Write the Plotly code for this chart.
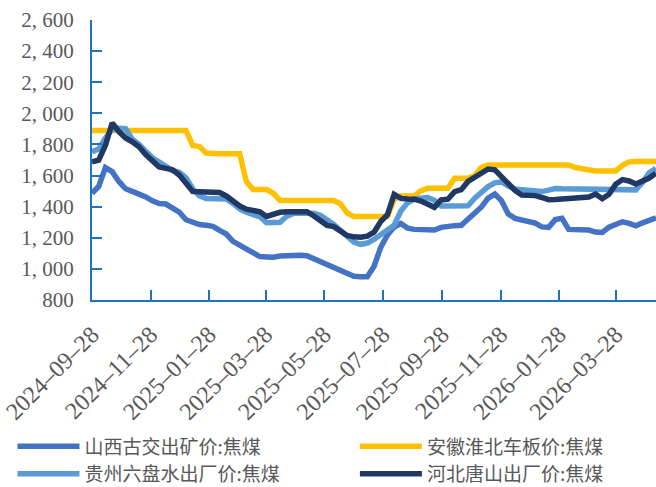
import pandas as pd
import plotly.graph_objects as go

# weekly observation dates
dates = pd.date_range("2024-09-28", periods=85, freq="7D")

tick_dates = ["2024-09-28", "2024-11-28", "2025-01-28", "2025-03-28", "2025-05-28",
              "2025-07-28", "2025-09-28", "2025-11-28", "2026-01-28", "2026-03-28"]

y_tick_vals = [800, 1000, 1200, 1400, 1600, 1800, 2000, 2200, 2400, 2600]
y_tick_text = ["800", "1, 000", "1, 200", "1, 400", "1, 600", "1, 800",
               "2, 000", "2, 200", "2, 400", "2, 600"]

names = ["山西古交出矿价:焦煤", "安徽淮北车板价:焦煤", "贵州六盘水出厂价:焦煤", "河北唐山出厂价:焦煤"]

gujiao = [1486, 1530, 1651, 1625, 1562, 1515, 1498, 1485, 1463, 1438,
          1420, 1417, 1392, 1365, 1316, 1297, 1285, 1281, 1273, 1247,
          1224, 1177, 1151, 1129, 1103, 1079, 1077, 1075, 1083, 1087,
          1087, 1087, 1085, 1065, 1048, 1033, 1012, 992, 973, 952,
          950, 950, 1016, 1138, 1218, 1269, 1292, 1262, 1254, 1250,
          1250, 1250, 1267, 1277, 1278, 1280, 1316, 1351, 1398, 1455,
          1481, 1437, 1353, 1325, 1312, 1307, 1295, 1270, 1267, 1317,
          1325, 1254, 1250, 1250, 1250, 1237, 1234, 1268, 1287, 1303,
          1293, 1277, 1296, 1313, 1328]

anhui = [1890, 1890, 1890, 1890, 1890, 1890, 1890, 1890, 1890, 1890,
         1890, 1890, 1890, 1890, 1890, 1793, 1786, 1745, 1740, 1740,
         1740, 1740, 1740, 1560, 1511, 1511, 1511, 1486, 1440, 1440,
         1440, 1440, 1440, 1440, 1440, 1440, 1440, 1418, 1360, 1336,
         1336, 1336, 1336, 1336, 1336, 1448, 1469, 1469, 1469, 1503,
         1518, 1518, 1518, 1518, 1582, 1582, 1582, 1600, 1653, 1668,
         1668, 1668, 1668, 1668, 1668, 1668, 1668, 1668, 1668, 1668,
         1668, 1668, 1652, 1642, 1632, 1630, 1630, 1630, 1630, 1666,
         1688, 1690, 1690, 1690, 1690]

guizhou = [1753, 1771, 1841, 1898, 1904, 1901, 1834, 1801, 1756, 1714,
           1686, 1655, 1632, 1621, 1586, 1515, 1469, 1453, 1452, 1451,
           1450, 1421, 1385, 1364, 1352, 1335, 1297, 1297, 1300, 1338,
           1357, 1357, 1357, 1357, 1344, 1317, 1286, 1248, 1204, 1172,
           1158, 1166, 1189, 1223, 1249, 1281, 1372, 1425, 1449, 1457,
           1458, 1441, 1404, 1404, 1404, 1404, 1406, 1455, 1495, 1529,
           1553, 1559, 1533, 1513, 1509, 1507, 1502, 1497, 1506, 1517,
           1515, 1515, 1515, 1515, 1515, 1515, 1510, 1508, 1508, 1508,
           1508, 1508, 1556, 1618, 1646]

tangshan = [1689, 1699, 1795, 1938, 1883, 1842, 1817, 1785, 1735, 1692,
            1655, 1646, 1637, 1603, 1554, 1498, 1496, 1496, 1496, 1491,
            1469, 1435, 1405, 1384, 1375, 1367, 1337, 1354, 1364, 1368,
            1368, 1368, 1368, 1342, 1310, 1280, 1272, 1244, 1215, 1206,
            1203, 1210, 1236, 1305, 1348, 1479, 1453, 1450, 1448, 1436,
            1415, 1396, 1443, 1448, 1497, 1509, 1562, 1591, 1620, 1642,
            1637, 1596, 1544, 1504, 1475, 1475, 1471, 1459, 1445, 1446,
            1450, 1454, 1456, 1457, 1462, 1481, 1451, 1480, 1544, 1574,
            1565, 1546, 1561, 1584, 1615]

colors = ["#4472C4", "#FFC000", "#5B9BD5", "#203864"]
series = [gujiao, anhui, guizhou, tangshan]
legend_of = ["legend", "legend2", "legend", "legend2"]

fig = go.Figure()
for name, vals, col, lg in zip(names, series, colors, legend_of):
    fig.add_trace(go.Scatter(
        x=dates, y=vals, name=name, mode="lines",
        line=dict(color=col, width=5.5), legend=lg,
    ))

axis_col = "#1F72BD"
serif = "Liberation Serif, Times New Roman, serif"
legend_font = dict(family="Noto Sans CJK SC", size=19, color="#595959")

fig.update_layout(
    width=656, height=487,
    margin=dict(l=92, r=0, t=20, b=187, autoexpand=False),
    paper_bgcolor="white", plot_bgcolor="white",
    showlegend=True,
    legend=dict(
        xref="container", yref="container",
        x=0.019, y=0.1226, xanchor="left", yanchor="top",
        orientation="v", font=legend_font, maxheight=300,
        itemwidth=62, bgcolor="rgba(0,0,0,0)", tracegroupgap=0,
    ),
    legend2=dict(
        xref="container", yref="container",
        x=0.541, y=0.1226, xanchor="left", yanchor="top",
        orientation="v", font=legend_font, maxheight=300,
        itemwidth=62, bgcolor="rgba(0,0,0,0)", tracegroupgap=0,
    ),
    xaxis=dict(
        type="date",
        range=["2024-09-28", "2026-05-09"],
        tickvals=tick_dates,
        tickformat="%Y–%m–%d",
        tickangle=-45,
        ticks="inside", ticklen=10, tickwidth=2, tickcolor=axis_col,
        showline=True, linecolor=axis_col, linewidth=2,
        showgrid=False, zeroline=False,
        tickfont=dict(family=serif, size=24, color="#595959"),
        ticklabelstandoff=9,
    ),
    yaxis=dict(
        range=[800, 2600],
        tickvals=y_tick_vals, ticktext=y_tick_text,
        ticks="inside", ticklen=10, tickwidth=2, tickcolor=axis_col,
        showline=True, linecolor=axis_col, linewidth=2,
        showgrid=False, zeroline=False,
        tickfont=dict(family=serif, size=21, color="#595959"),
        ticklabelstandoff=12,
    ),
)

fig.write_html("out.html", config={"displayModeBar": False},
               post_script="document.body.style.margin='0';")
